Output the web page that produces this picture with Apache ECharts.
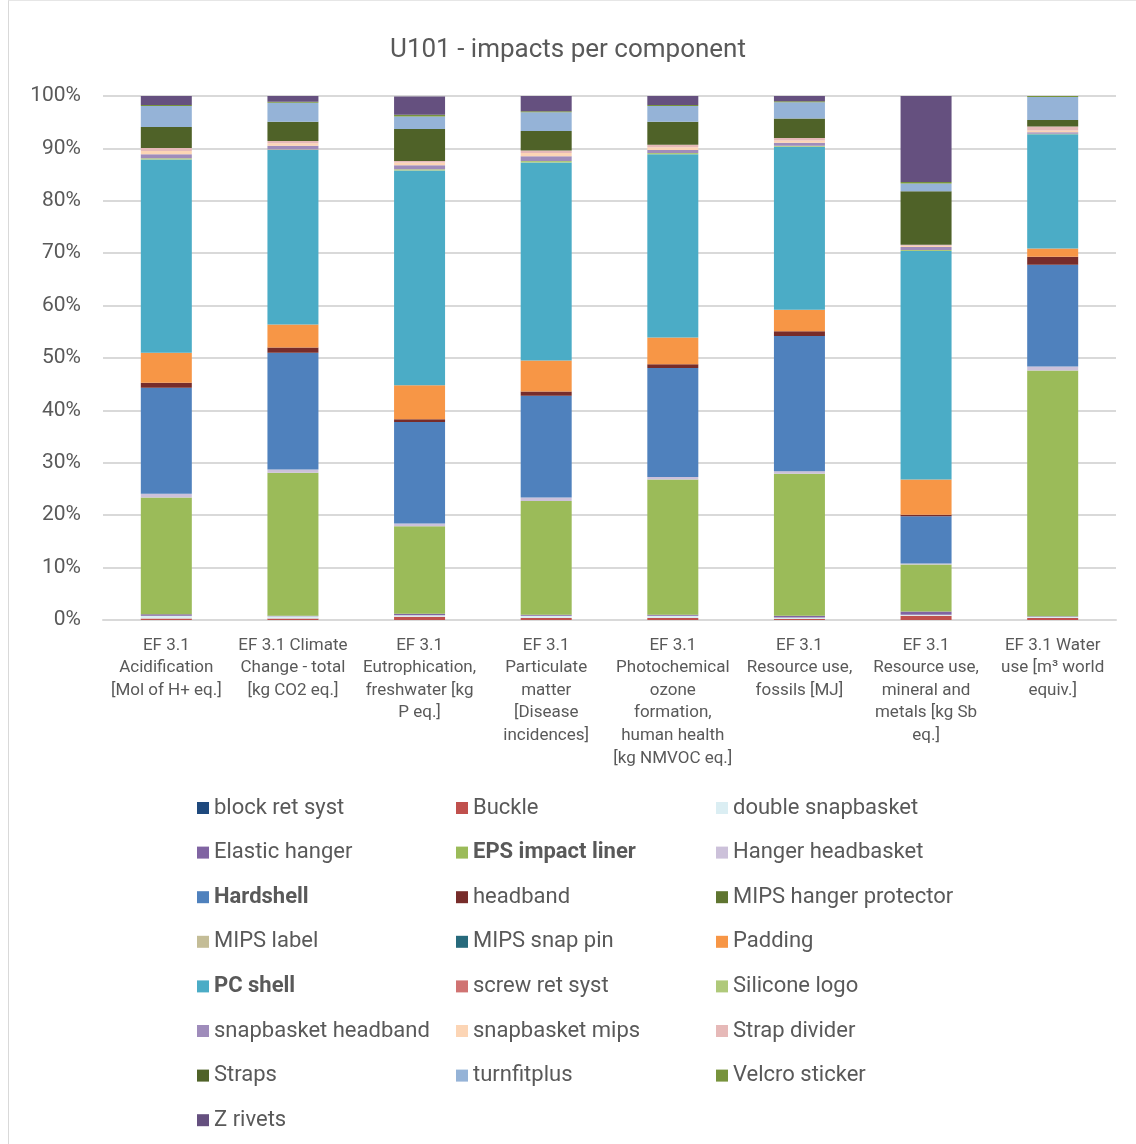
<!DOCTYPE html>
<html>
<head>
<meta charset="utf-8">
<script src="https://cdn.jsdelivr.net/npm/echarts@6/dist/echarts.min.js"></script>
<style>
html,body{margin:0;padding:0;background:#fff;}
#frame{position:absolute;left:8px;top:0;width:1127px;height:1143px;border-left:1px solid #d9d9d9;border-top:1px solid #e6e6e6;}
#chart{position:absolute;left:0;top:0;width:1136px;height:1144px;}
</style>
</head>
<body>
<div id="frame"></div>
<div id="chart"></div>
<script>
const categories = [
  "EF 3.1\nAcidification\n[Mol of H+ eq.]",
  "EF 3.1 Climate\nChange - total\n[kg CO2 eq.]",
  "EF 3.1\nEutrophication,\nfreshwater [kg\nP eq.]",
  "EF 3.1\nParticulate\nmatter\n[Disease\nincidences]",
  "EF 3.1\nPhotochemical\nozone\nformation,\nhuman health\n[kg NMVOC eq.]",
  "EF 3.1\nResource use,\nfossils [MJ]",
  "EF 3.1\nResource use,\nmineral and\nmetals [kg Sb\neq.]",
  "EF 3.1 Water\nuse [m³ world\nequiv.]"
];
const yTicks = [0,10,20,30,40,50,60,70,80,90,100];

// values in % of each impact category
const blockRetSyst       = [0,0,0,0,0,0,0,0];
const buckle             = [0.3,0.3,0.6,0.4,0.4,0.2,0.8,0.4];
const doubleSnapbasket   = [0.5,0.4,0.3,0.4,0.4,0.3,0.2,0.2];
const elasticHanger      = [0.3,0.1,0.3,0.2,0.2,0.3,0.6,0.1];
const epsImpactLiner     = [22.3,27.3,16.7,21.7,25.8,27.1,9.0,46.9];
const hangerHeadbasket   = [0.7,0.6,0.5,0.7,0.5,0.5,0.2,0.8];
const hardshell          = [20.2,22.3,19.4,19.4,20.8,25.8,9.0,19.4];
const headband           = [1.0,1.0,0.5,0.8,0.7,0.9,0.3,1.5];
const mipsHangerProt     = [0,0,0,0,0,0,0,0];
const mipsLabel          = [0,0,0,0,0,0,0,0];
const mipsSnapPin        = [0,0,0,0,0,0,0,0];
const padding            = [5.7,4.4,6.5,5.9,5.1,4.1,6.7,1.6];
const pcShell            = [36.9,33.3,41.0,37.8,35.0,31.1,43.6,21.8];
const screwRetSyst       = [0,0,0,0,0,0,0,0];
const siliconeLogo       = [0.2,0.1,0.2,0.3,0.2,0.2,0.2,0.1];
const snapbasketHeadband = [0.8,0.7,0.8,0.9,0.6,0.6,0.6,0.3];
const snapbasketMips     = [0.6,0.5,0.5,0.6,0.5,0.4,0.2,0.3];
const strapDivider       = [0.6,0.4,0.3,0.5,0.5,0.5,0.2,0.8];
const straps             = [4.0,3.7,6.1,3.7,4.4,3.7,10.2,1.2];
const turnfitplus        = [4.0,3.6,2.4,3.6,3.0,3.1,1.5,4.4];
const velcroSticker      = [0.2,0.2,0.3,0.2,0.2,0.2,0.3,0.2];
const zRivets            = [1.9,1.4,3.5,2.9,1.7,1.1,16.5,0.1];

const seriesNames = ["block ret syst","Buckle","double snapbasket","Elastic hanger","EPS impact liner","Hanger headbasket","Hardshell","headband","MIPS hanger protector","MIPS label","MIPS snap pin","Padding","PC shell","screw ret syst","Silicone logo","snapbasket headband","snapbasket mips","Strap divider","Straps","turnfitplus","Velcro sticker","Z rivets"];
const seriesData = [blockRetSyst,buckle,doubleSnapbasket,elasticHanger,epsImpactLiner,hangerHeadbasket,hardshell,headband,mipsHangerProt,mipsLabel,mipsSnapPin,padding,pcShell,screwRetSyst,siliconeLogo,snapbasketHeadband,snapbasketMips,strapDivider,straps,turnfitplus,velcroSticker,zRivets];
const seriesColors = ["#1f497d","#c0504d","#dbeef3","#8064a2","#9bbb59","#ccc1da","#4f81bd","#772c2a","#5f7530","#c4bd97","#276a7c","#f79646","#4bacc6","#d07372","#afc97a","#9f8cbb","#fcd5b5","#e6b9b8","#4f6228","#95b3d7","#77933c","#65507f"];
const boldNames = ["EPS impact liner","Hardshell","PC shell"];

const FONT = "Roboto";
const TXT = "#595959";

const chart = echarts.init(document.getElementById('chart'), null, {renderer:'canvas'});

const series = seriesNames.map((n,i)=>({
  name:n, type:'bar', stack:'total', barWidth:51,
  itemStyle:{color:seriesColors[i]},
  data:seriesData[i]
}));

function legendCol(c){
  const names = seriesNames.filter((n,i)=> i%3===c);
  return {
    orient:'vertical', left:[192,451,711][c], top:791,
    itemWidth:12, itemHeight:12, itemGap:20.6, itemTextGap:6, icon:'rect',
    data:names, selectedMode:false,
    formatter: n => boldNames.includes(n) ? '{b|'+n+'}' : n,
    textStyle:{fontFamily:FONT, fontSize:22, color:TXT, lineHeight:24,
      rich:{b:{fontFamily:FONT, fontSize:22, fontWeight:'bold', color:TXT, lineHeight:24}}}
  };
}

chart.setOption({
  animation:false,
  title:{text:"U101 - impacts per component", left:'center', top:32,
    textStyle:{fontFamily:FONT, fontSize:26, fontWeight:'normal', color:TXT}},
  grid:{left:103, right:20, top:96, bottom:524, containLabel:false},
  legend:[legendCol(0),legendCol(1),legendCol(2)],
  xAxis:{type:'category', data:categories,
    axisLine:{lineStyle:{color:'#d9d9d9', width:2}},
    axisTick:{show:false},
    axisLabel:{interval:0, fontFamily:FONT, fontSize:17, color:TXT, lineHeight:22.6, margin:14}},
  yAxis:{type:'value', min:0, max:100, interval:10,
    axisLabel:{formatter: v => v+'%', fontFamily:FONT, fontSize:21, color:TXT, margin:22},
    axisLine:{show:false}, axisTick:{show:false},
    splitLine:{lineStyle:{color:'#d9d9d9', width:2}}},
  series:series
});
</script>
</body>
</html>
